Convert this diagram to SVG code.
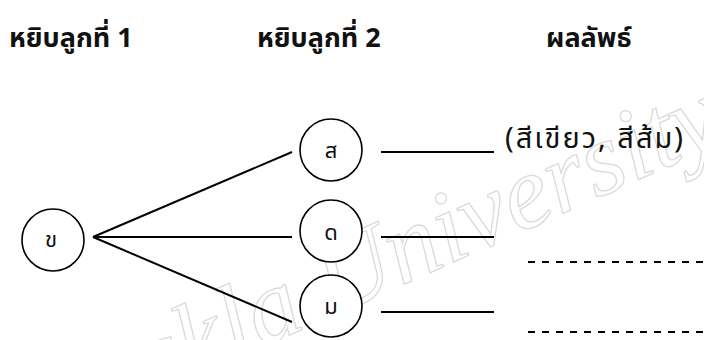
<svg xmlns="http://www.w3.org/2000/svg" width="704" height="340" viewBox="0 0 704 340">
  <style>
    .head { font-family: "Noto Sans Thai", "Noto Sans", "Tahoma", sans-serif; font-size: 27px; font-weight: bold; fill: #111; }
    .label { font-family: "Noto Sans Thai", "Noto Sans", sans-serif; font-size: 22px; fill: #111; }
    .result { font-family: "Noto Sans Thai", "Noto Sans", sans-serif; font-size: 29px; fill: #111; }
    .node circle { fill: #fff; stroke: #000; stroke-width: 1.6; }
    .edge { stroke: #000; stroke-width: 2; fill: none; }
    .dash { stroke: #000; stroke-width: 2; stroke-dasharray: 7 7; fill: none; }
    .mark { font-family: "Liberation Serif", serif; font-style: italic; font-size: 104px; fill: none; stroke: #dadada; stroke-width: 1.3; }
  </style>
  <rect width="704" height="340" fill="#fff"/>

  <!-- background watermark -->
  <text class="mark" x="728" y="140" text-anchor="end" transform="rotate(-24 728 140)">Songkla University</text>

  <!-- column headings -->
  <text class="head" x="9" y="47">หยิบลูกที่ 1</text>
  <text class="head" x="257" y="47">หยิบลูกที่ 2</text>
  <text class="head" x="546" y="47">ผลลัพธ์</text>

  <!-- branches and result lines -->
  <g id="connectors">
    <line class="edge" x1="93" y1="237" x2="292" y2="152"/>
    <line class="edge" x1="93" y1="237" x2="292" y2="237"/>
    <line class="edge" x1="93" y1="237" x2="292" y2="322"/>
    <line class="edge" x1="381" y1="152" x2="494" y2="152"/>
    <line class="edge" x1="381" y1="237" x2="494" y2="237"/>
    <line class="edge" x1="381" y1="312" x2="494" y2="312"/>
    <line class="dash" x1="528" y1="262" x2="704" y2="262"/>
    <line class="dash" x1="528" y1="332" x2="704" y2="332"/>
  </g>

  <g id="node-kh" class="node">
    <circle cx="53" cy="240" r="31"/>
    <text class="label" x="51" y="247" text-anchor="middle">ข</text>
  </g>
  <g id="node-s" class="node">
    <circle cx="331" cy="150" r="31"/>
    <text class="label" x="331" y="158" text-anchor="middle">ส</text>
  </g>
  <g id="node-d" class="node">
    <circle cx="331" cy="231" r="31"/>
    <text class="label" x="331" y="240" text-anchor="middle">ด</text>
  </g>
  <g id="node-m" class="node">
    <circle cx="331" cy="306" r="31"/>
    <text class="label" x="331" y="314" text-anchor="middle">ม</text>
  </g>

  <text id="result-1" class="result" x="505" y="148" textLength="178" lengthAdjust="spacing">(สีเขียว, สีส้ม)</text>
</svg>
